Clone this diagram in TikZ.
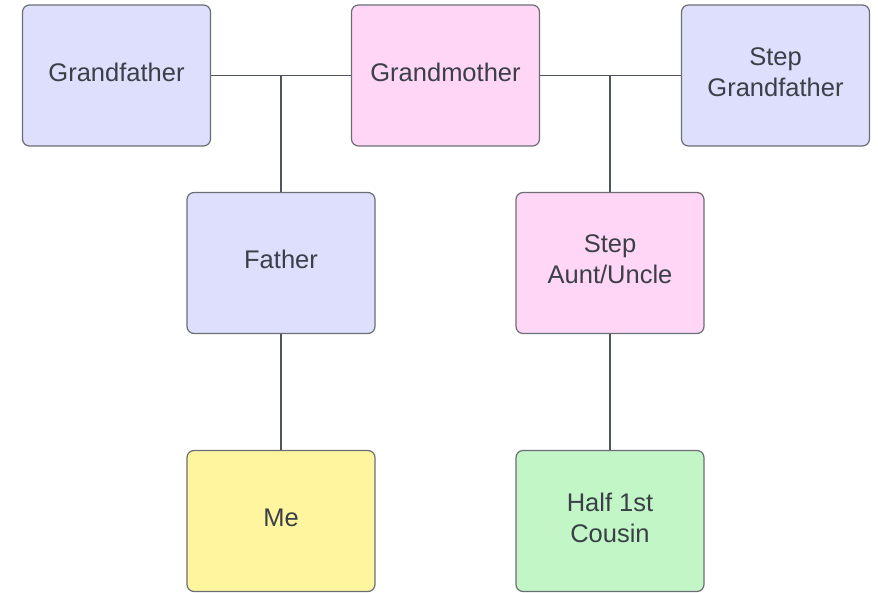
\documentclass[tikz,border=0pt]{standalone}
\usepackage{fontspec}
\setmainfont{Liberation Sans}
\definecolor{edgegray}{HTML}{6B6E75}
\definecolor{linegray}{HTML}{50545C}
\definecolor{txtgray}{HTML}{3A3F48}
\definecolor{fillblue}{HTML}{DEDFFC}
\definecolor{fillpink}{HTML}{FFD6F5}
\definecolor{fillyellow}{HTML}{FFF59E}
\definecolor{fillgreen}{HTML}{C3F6C6}
\begin{document}
\begin{tikzpicture}[x=1pt,y=-1pt,
  person/.style={draw=edgegray, line width=1.2pt, rounded corners=7pt,
    minimum width=188pt, minimum height=141pt, inner sep=0pt},
  caption/.style={align=center, text=txtgray, inner sep=0pt,
    font=\fontsize{25.5}{31}\selectfont},
  link/.style={draw=linegray, line width=1.2pt}]
\useasboundingbox (0,0) rectangle (878,592);
% top generation
\node[person, fill=fillblue] (gf) at (116.5,75.5) {};
\node[person, fill=fillpink] (gm) at (445.5,75.5) {};
\node[person, fill=fillblue] (sgf) at (775.5,75.5) {};
% middle generation
\node[person, fill=fillblue] (fa) at (281,263) {};
\node[person, fill=fillpink] (sau) at (610,263) {};
% youngest generation
\node[person, fill=fillyellow] (me) at (281,521) {};
\node[person, fill=fillgreen] (hc) at (610,521) {};
% names, set a little above each box's centre
\node[caption] (gf-t) at ([yshift=3.5pt]gf.center) {Grandfather};
\node[caption] (gm-t) at ([yshift=3.5pt]gm.center) {Grandmother};
\node[caption] (sgf-t) at ([yshift=3.5pt]sgf.center) {Step\\Grandfather};
\node[caption] (fa-t) at ([yshift=3.5pt]fa.center) {Father};
\node[caption] (sau-t) at ([yshift=3.5pt]sau.center) {Step\\Aunt/Uncle};
\node[caption] (me-t) at ([yshift=3.5pt]me.center) {Me};
\node[caption] (hc-t) at ([yshift=3.5pt]hc.center) {Half 1st\\Cousin};
% couple lines and their junctions
\coordinate (j1) at (fa.north |- gf.east);
\coordinate (j2) at (sau.north |- gm.east);
\draw[link] (gf.east) -- (gm.west);
\draw[link] (gm.east) -- (sgf.west);
\draw[link] (j1) -- (fa.north);
\draw[link] (j2) -- (sau.north);
% parent to child
\draw[link] (fa.south) -- (me.north);
\draw[link] (sau.south) -- (hc.north);
\end{tikzpicture}
\end{document}
